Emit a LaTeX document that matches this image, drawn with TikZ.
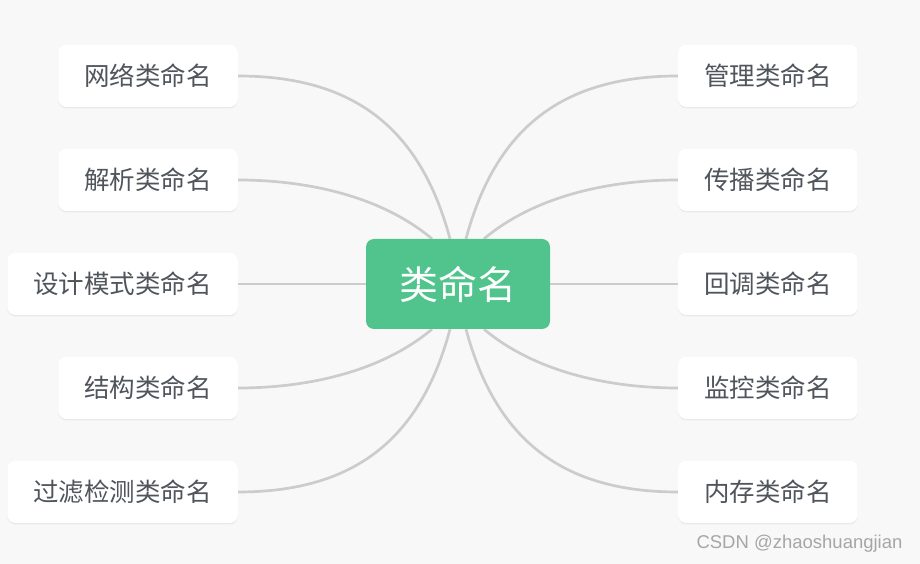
\documentclass[tikz,border=0pt]{standalone}
\usepackage{fontspec}
\setmainfont{Noto Sans CJK SC}
\newfontfamily\markfont{Liberation Sans}
\usetikzlibrary{positioning, shadows, backgrounds}

\definecolor{bgcol}{HTML}{F8F8F8}
\definecolor{rootcol}{HTML}{50C48C}
\definecolor{txtcol}{HTML}{50555C}
\definecolor{linecol}{HTML}{CCCCCC}

\tikzset{
  root/.style={fill=rootcol, rounded corners=8pt, text=white, minimum width=184pt,
    minimum height=90pt, font=\fontsize{39}{39}\selectfont},
  leaf/.style={fill=white, rounded corners=8pt, text=txtcol, inner xsep=26pt,
    minimum height=62pt, font=\fontsize{25.5}{25.5}\selectfont,
    drop shadow={opacity=0.12, shadow xshift=0pt, shadow yshift=-1.5pt}},
  link/.style={draw=linecol, line width=2.7pt},
}

\begin{document}
\begin{tikzpicture}[x=1pt, y=1pt]
  \useasboundingbox (0,0) rectangle (920,564);

  \node[root] (cls) at (458,280) {类命名};

  % left side
  \node[leaf, anchor=east] (net) at (238,488) {网络类命名};
  \node[leaf, anchor=east] (parse) at (238,384) {解析类命名};
  \node[leaf, anchor=east] (design) at (238,280) {设计模式类命名};
  \node[leaf, anchor=east] (struct) at (238,176) {结构类命名};
  \node[leaf, anchor=east] (filter) at (238,72) {过滤检测类命名};

  % right side
  \node[leaf, anchor=west] (manage) at (678,488) {管理类命名};
  \node[leaf, anchor=west] (spread) at (678,384) {传播类命名};
  \node[leaf, anchor=west] (callback) at (678,280) {回调类命名};
  \node[leaf, anchor=west] (monitor) at (678,176) {监控类命名};
  \node[leaf, anchor=west] (memory) at (678,72) {内存类命名};

  \coordinate (tl1) at ([xshift=-8pt]cls.north);
  \coordinate (tl2) at ([xshift=-26pt]cls.north);
  \coordinate (tr1) at ([xshift=8pt]cls.north);
  \coordinate (tr2) at ([xshift=26pt]cls.north);
  \coordinate (bl1) at ([xshift=-8pt]cls.south);
  \coordinate (bl2) at ([xshift=-26pt]cls.south);
  \coordinate (br1) at ([xshift=8pt]cls.south);
  \coordinate (br2) at ([xshift=26pt]cls.south);

  \begin{scope}[on background layer]
  \fill[bgcol] (0,0) rectangle (920,564);
  \path[link]
  (net.east) edge [out=0, in=105, looseness=1.1] (tl1)
  (parse.east) edge [out=0, in=140, looseness=0.85] (tl2)
  (design.east) edge (cls.west)
  (struct.east) edge [out=0, in=220, looseness=0.85] (bl2)
  (filter.east) edge [out=0, in=255, looseness=1.1] (bl1)
  (manage.west) edge [out=180, in=75, looseness=1.1] (tr1)
  (spread.west) edge [out=180, in=40, looseness=0.85] (tr2)
  (callback.west) edge (cls.east)
  (monitor.west) edge [out=180, in=320, looseness=0.85] (br2)
  (memory.west) edge [out=180, in=285, looseness=1.1] (br1)
  ;
  \end{scope}

  \node[anchor=east, text=black!35, font=\markfont\fontsize{18.5}{18.5}\selectfont] (mark) at (906,20) {CSDN @zhaoshuangjian};
\end{tikzpicture}
\end{document}
